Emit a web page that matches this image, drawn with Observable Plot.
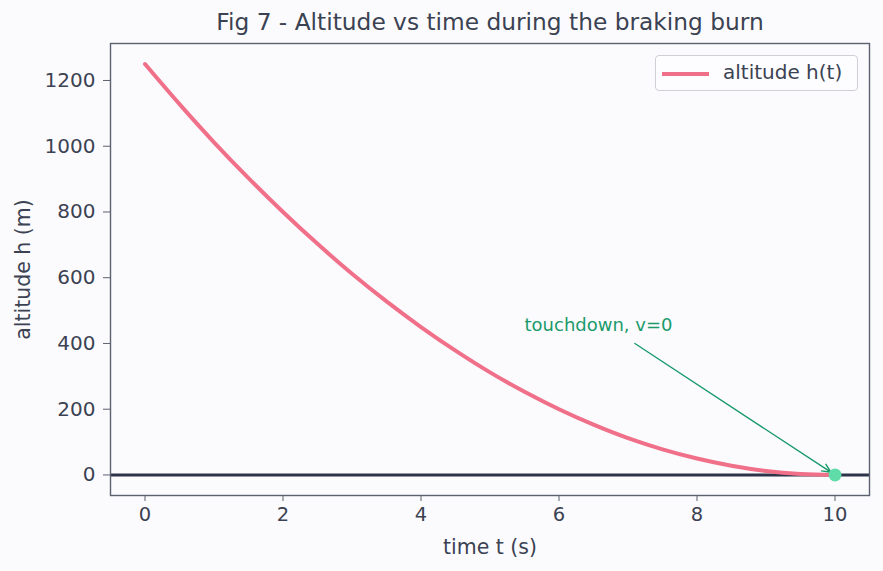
<!DOCTYPE html>
<html>
<head>
<meta charset="utf-8">
<script src="https://cdn.jsdelivr.net/npm/d3@7"></script>
<script src="https://cdn.jsdelivr.net/npm/@observablehq/plot@0.6"></script>
<style>
  html, body { margin: 0; padding: 0; background: #fbfbfe; }
  #wrap { position: relative; width: 883px; height: 571px; font-family: "DejaVu Sans", sans-serif; }
  #legend { position: absolute; left: 655px; top: 55px; width: 203px; height: 36px; border: 1px solid #cfd0d6; border-radius: 4px; background: #fdfdff; box-sizing: border-box; }
  #legend .sw { position: absolute; left: 6px; top: 15.5px; width: 47px; height: 4px; background: #f0708a; }
  #legend .lb { position: absolute; left: 67px; top: 4px; font-size: 20px; color: #3b4252; line-height: 25px; white-space: nowrap; }
</style>
</head>
<body>
<div id="wrap"></div>
<script>
const title = "Fig 7 - Altitude vs time during the braking burn";
const xLabel = "time t (s)";
const yLabel = "altitude h (m)";
const seriesName = "altitude h(t)";
const times = [0, 0.5, 1, 1.5, 2, 2.5, 3, 3.5, 4, 4.5, 5, 5.5, 6, 6.5, 7, 7.5, 8, 8.5, 9, 9.5, 10];
const altitude = [1250, 1128, 1012, 903, 800, 703, 612, 528, 450, 378, 312, 253, 200, 153, 112, 78, 50, 28, 12, 3, 0];
const xTicks = [0, 2, 4, 6, 8, 10];
const yTicks = [0, 200, 400, 600, 800, 1000, 1200];
const annText = ["touchdown, v=0"];
const annTextPos = [5.5, 454];
const annArrowStart = [7.1, 400];
const touchdown = [{t: 10, h: 0}];

const data = times.map((t, i) => ({t, h: altitude[i]}));

const chart = Plot.plot({
  width: 883,
  height: 571,
  marginTop: 43,
  marginBottom: 76,
  marginLeft: 110,
  marginRight: 14,
  style: {background: "#fbfbfe", color: "#3b4252", fontFamily: "DejaVu Sans, sans-serif"},
  x: {domain: [-0.5, 10.5]},
  y: {domain: [-62.5, 1312.5]},
  marks: [
    Plot.text([title], {frameAnchor: "top", dy: -21, fontSize: 23.3, fill: "#3b4252", lineAnchor: "middle"}),
    Plot.axisX({ticks: xTicks, tickSize: 6, tickPadding: 6, fontSize: 19.5, stroke: "#5c6170", tickFormat: d3.format("d"), label: null}),
    Plot.axisY({ticks: yTicks, tickSize: 7, tickPadding: 8, fontSize: 20, stroke: "#5c6170", tickFormat: d3.format("d"), label: null}),
    Plot.text([xLabel], {frameAnchor: "bottom", dy: 52, fontSize: 20.5, fill: "#3b4252", lineAnchor: "middle", textAnchor: "middle"}),
    Plot.text([yLabel], {frameAnchor: "left", dx: -87, rotate: -90, fontSize: 20.5, fill: "#3b4252", lineAnchor: "middle", textAnchor: "middle"}),
    Plot.ruleY([0], {stroke: "#2e3448", strokeWidth: 3}),
    Plot.line(data, {x: "t", y: "h", stroke: "#f0708a", strokeWidth: 4, curve: "catmull-rom"}),
    Plot.arrow(touchdown, {x1: () => annArrowStart[0], y1: () => annArrowStart[1], x2: "t", y2: "h", stroke: "#1a9a6a", strokeWidth: 1.4, headLength: 10, headAngle: 50, insetEnd: 5, bend: 0}),
    Plot.dot(touchdown, {x: "t", y: "h", r: 6.5, fill: "#5fdca8", stroke: "none"}),
    Plot.text(annText, {x: () => annTextPos[0], y: () => annTextPos[1], text: d => d, textAnchor: "start", lineAnchor: "middle", fontSize: 18, fill: "#1a9a6a"}),
    Plot.frame({stroke: "#5c6170", strokeWidth: 1.4})
  ]
});

const wrap = document.getElementById("wrap");
wrap.appendChild(chart);
const legend = document.createElement("div");
legend.id = "legend";
legend.innerHTML = '<div class="sw"></div><div class="lb"></div>';
legend.querySelector(".lb").textContent = seriesName;
wrap.appendChild(legend);
</script>
</body>
</html>
